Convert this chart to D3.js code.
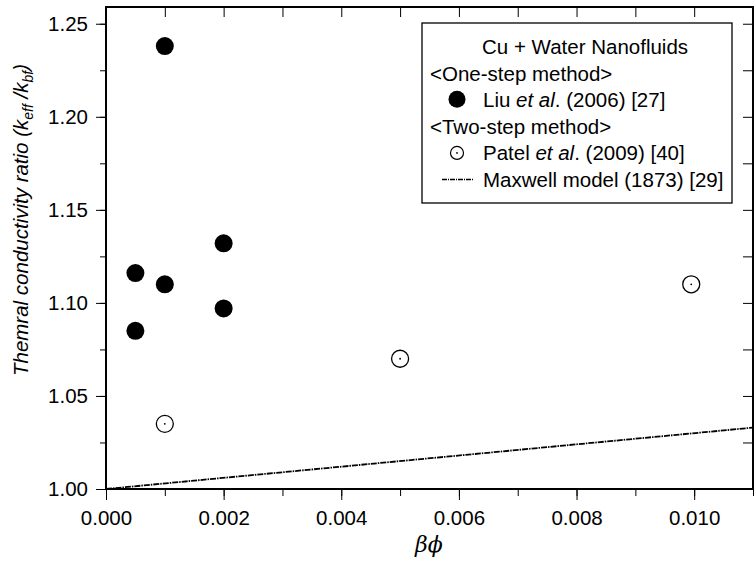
<!DOCTYPE html>
<html>
<head>
<meta charset="utf-8">
<script src="https://cdn.jsdelivr.net/npm/d3@7"></script>
<style>
  body { margin: 0; background: #fff; }
  svg { font-family: "Liberation Sans", Arial, sans-serif; }
  .axis text { font-size: 20.5px; fill: #000; }
  .axis path, .axis line { stroke: #000; }
</style>
</head>
<body>
<svg id="chart" width="754" height="563"></svg>
<script>
// Liu et al. (2006), one-step method
var liuX = [0.001, 0.0005, 0.0005, 0.001, 0.002, 0.002];
var liuY = [1.238, 1.116, 1.085, 1.110, 1.132, 1.097];
// Patel et al. (2009), two-step method
var patelX = [0.001, 0.005, 0.00995];
var patelY = [1.035, 1.070, 1.110];
// Maxwell model (1873), end points
var maxwellX = [0, 0.011];
var maxwellY = [1.0, 1.033];

var xTicks = [0, 0.002, 0.004, 0.006, 0.008, 0.010];
var yTicks = [1.00, 1.05, 1.10, 1.15, 1.20, 1.25];

var margin = {top: 7, right: 1, bottom: 74, left: 106},
    width = 754 - margin.left - margin.right,
    height = 563 - margin.top - margin.bottom;

var svg = d3.select("#chart");
var g = svg.append("g")
    .attr("transform", "translate(" + margin.left + "," + margin.top + ")");

var x = d3.scaleLinear().domain([0, 0.011]).range([0, width]);
var y = d3.scaleLinear().domain([1.0, 1.259]).range([height, 0]);

var xMinor = d3.range(0, 0.0115, 0.001);
var yMinor = d3.range(1.0, 1.26, 0.025);

function noDomain(s) { s.select(".domain").remove(); }

// minor ticks (outward on left / bottom)
g.append("g").attr("class", "axis")
    .attr("transform", "translate(0," + height + ")")
    .call(d3.axisBottom(x).tickValues(xMinor).tickSize(7).tickFormat(""))
    .call(noDomain);
g.append("g").attr("class", "axis")
    .call(d3.axisLeft(y).tickValues(yMinor).tickSize(6).tickFormat(""))
    .call(noDomain);

// major ticks with labels
g.append("g").attr("class", "axis")
    .attr("transform", "translate(0," + height + ")")
    .call(d3.axisBottom(x).tickValues(xTicks).tickSize(11).tickPadding(10).tickFormat(d3.format(".3f")))
    .call(noDomain);
g.append("g").attr("class", "axis")
    .call(d3.axisLeft(y).tickValues(yTicks).tickSize(10).tickPadding(8).tickFormat(d3.format(".2f")))
    .call(noDomain);

// inward ticks on top and right
g.append("g").attr("class", "axis")
    .call(d3.axisBottom(x).tickValues(xMinor).tickSize(10).tickFormat(""))
    .call(noDomain);
g.append("g").attr("class", "axis")
    .attr("transform", "translate(" + width + ",0)")
    .call(d3.axisLeft(y).tickValues(yMinor).tickSize(10).tickFormat(""))
    .call(noDomain);

// frame
g.append("rect")
    .attr("width", width).attr("height", height)
    .attr("fill", "none").attr("stroke", "#000").attr("stroke-width", 2);

// Maxwell line
var line = d3.line().x(function(d) { return x(d[0]); }).y(function(d) { return y(d[1]); });
g.append("path")
    .datum(d3.zip(maxwellX, maxwellY))
    .attr("d", line)
    .attr("fill", "none").attr("stroke", "#000")
    .attr("stroke-width", 1.8).attr("stroke-dasharray", "6,1,1.5,1");

// Liu points
g.selectAll(".liu")
    .data(d3.zip(liuX, liuY))
  .enter().append("circle")
    .attr("class", "liu")
    .attr("cx", function(d) { return x(d[0]); })
    .attr("cy", function(d) { return y(d[1]); })
    .attr("r", 9)
    .attr("fill", "#000");

// Patel points
var patel = g.selectAll(".patel")
    .data(d3.zip(patelX, patelY))
  .enter().append("g")
    .attr("class", "patel")
    .attr("transform", function(d) { return "translate(" + x(d[0]) + "," + y(d[1]) + ")"; });
patel.append("circle").attr("r", 8.5).attr("fill", "#fff").attr("stroke", "#000").attr("stroke-width", 1.3);
patel.append("circle").attr("r", 0.9).attr("fill", "#000");

// axis titles
svg.append("text")
    .attr("x", 415).attr("y", 552)
    .attr("font-size", 22).attr("font-style", "italic")
    .attr("font-family", "'DejaVu Serif', 'Liberation Serif', serif")
    .text("\u03b2\u03d5");

var yl = svg.append("text")
    .attr("transform", "translate(28,220) rotate(-90)")
    .attr("text-anchor", "middle")
    .attr("font-size", 20.5).attr("font-style", "italic");
yl.append("tspan").text("Themral conductivity ratio (k");
yl.append("tspan").attr("font-size", 14).attr("dy", 5).text("eff");
yl.append("tspan").attr("dy", -5).text(" /k");
yl.append("tspan").attr("font-size", 14).attr("dy", 5).text("bf");
yl.append("tspan").attr("dy", -5).text(")");

// legend
var lg = svg.append("g").attr("transform", "translate(422,23)")
    .attr("font-size", 20.5);
lg.append("rect").attr("width", 310).attr("height", 180)
    .attr("fill", "#fff").attr("stroke", "#000").attr("stroke-width", 1.3);
var rowY = function(i) { return 31 + i * 26.6; };
lg.append("text").attr("x", 60).attr("y", rowY(0)).text("Cu + Water Nanofluids");
lg.append("text").attr("x", 8).attr("y", rowY(1)).text("<One-step method>");
lg.append("circle").attr("cx", 35).attr("cy", rowY(2) - 8).attr("r", 8.5).attr("fill", "#000");
var t2 = lg.append("text").attr("x", 61).attr("y", rowY(2));
t2.append("tspan").text("Liu ");
t2.append("tspan").attr("font-style", "italic").text("et al");
t2.append("tspan").text(". (2006) [27]");
lg.append("text").attr("x", 8).attr("y", rowY(3)).text("<Two-step method>");
lg.append("circle").attr("cx", 35).attr("cy", rowY(4) - 7.5).attr("r", 6.5).attr("fill", "#fff").attr("stroke", "#000").attr("stroke-width", 1.2);
lg.append("circle").attr("cx", 35).attr("cy", rowY(4) - 7.5).attr("r", 0.9).attr("fill", "#000");
var t4 = lg.append("text").attr("x", 61).attr("y", rowY(4));
t4.append("tspan").text("Patel ");
t4.append("tspan").attr("font-style", "italic").text("et al");
t4.append("tspan").text(". (2009) [40]");
lg.append("line").attr("x1", 20).attr("x2", 51).attr("y1", rowY(5) - 7.5).attr("y2", rowY(5) - 7.5)
    .attr("stroke", "#000").attr("stroke-width", 1.5).attr("stroke-dasharray", "5,1,1,1");
lg.append("text").attr("x", 61).attr("y", rowY(5)).text("Maxwell model (1873) [29]");
</script>
</body>
</html>
